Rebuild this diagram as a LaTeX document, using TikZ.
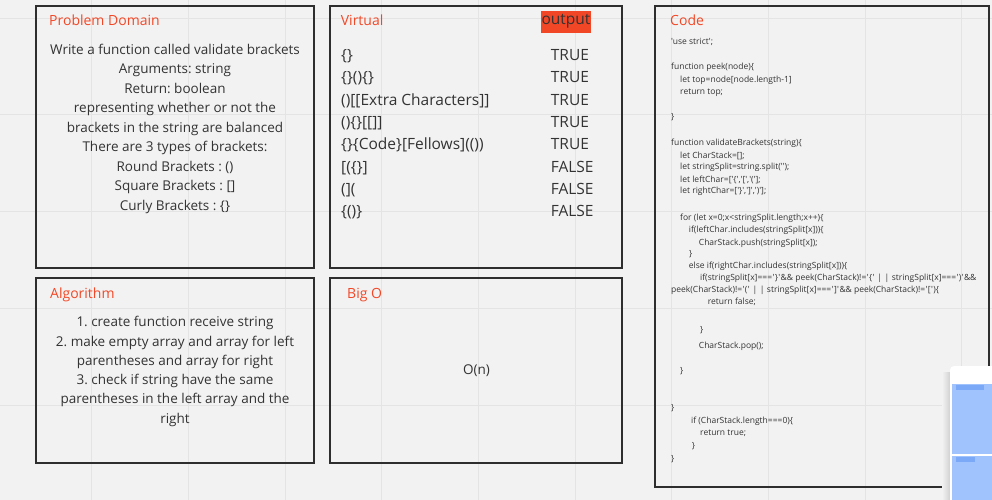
\documentclass[tikz,border=0pt]{standalone}
\usepackage{fontspec}
\setmainfont{Open Sans}
\newfontfamily\codefont{Open Sans}
\frenchspacing
\definecolor{bg}{HTML}{F2F2F2}
\definecolor{gridc}{HTML}{E4E4E4}
\definecolor{boxc}{HTML}{2E2E2E}
\definecolor{titlered}{HTML}{F24726}
\definecolor{txt}{HTML}{333333}
\definecolor{panelblue}{HTML}{A0C2FD}
\definecolor{barblue}{HTML}{7CA8F8}
\newcommand{\pipes}{\hspace{2.5pt}|\hspace{2.5pt}|\hspace{2.5pt}}
\newcommand{\q}{\hspace{0.4pt}'\hspace{0.4pt}}
\tikzset{
  panel/.style={draw=boxc, line width=1.7pt, inner sep=0pt},
  title/.style={anchor=base west, inner sep=0pt, text=titlered, font=\fontsize{14}{16}\selectfont},
  body/.style={anchor=base, inner sep=0pt, text=txt, font=\fontsize{13.5}{16}\selectfont},
  vlist/.style={anchor=base west, inner sep=0pt, text=txt, font=\fontsize{15.5}{18}\selectfont},
  code/.style={anchor=base west, inner sep=0pt, text=txt, font=\codefont\fontsize{8.5}{10}\selectfont},
  gridline/.style={draw=gridc, line width=1pt}
}
\begin{document}
\begin{tikzpicture}[x=1pt,y=-1pt]
\useasboundingbox (0,0) rectangle (992,500);
\fill[bg] (0,0) rectangle (992,500);
% grid
\foreach \gx in {91.7,188.4,285,381.7,478.3,575,671.7,768.3,865,961.7}
  \draw[gridline] (\gx,0) -- (\gx,500);
\foreach \gy in {18.3,115,211.7,308.3,405}
  \draw[gridline] (0,\gy) -- (992,\gy);

% panels
\node[panel, minimum width=278pt, minimum height=262pt] (pdbox) at (175,137) {};
\node[panel, minimum width=292pt, minimum height=262pt] (vbox) at (476,137) {};
\node[panel, minimum width=278pt, minimum height=185pt] (algbox) at (175,370.5) {};
\node[panel, minimum width=292pt, minimum height=185pt] (bigobox) at (476,370.5) {};
\node[panel, minimum width=334pt, minimum height=481pt] (codebox) at (822,246.5) {};

% titles
\node[title] (pdt) at (49,25.5) {Problem Domain};
\node[title] (vt) at (340.7,25.5) {Virtual};
\node[title] (algt) at (50,298.3) {Algorithm};
\node[title] (bigot) at (347,298.3) {Big O};
\node[title] (codet) at (670,25.5) {Code};
\node[fill=titlered, minimum width=50pt, minimum height=22pt, inner sep=0pt, text=txt,
      font=\fontsize{15.5}{18}\selectfont] (outp) at (566,21.7) {output};

% problem domain
\foreach \t [count=\i] in {{Write a function called validate brackets}, {Arguments: string},
  {Return: boolean}, {representing whether or not the}, {brackets in the string are balanced},
  {There are 3 types of brackets:}, {Round Brackets : ()}, {Square Brackets : []},
  {Curly Brackets : \{\}}}
  \node[body] (pd\i) at (175,{54.3+19.5*(\i-1)}) {\t};

% algorithm
\foreach \t [count=\i] in {{1. create function receive string}, {2. make empty array and array for left},
  {parentheses and array for right}, {3. check if string have the same},
  {parentheses in the left array and the}, {right}}
  \node[body] (al\i) at (175,{326.7+19.3*(\i-1)}) {\t};

% big O
\node[body] (on) at (476.5,374) {O(n)};

% virtual list
\foreach \t [count=\i] in {{\{\}}, {\{\}()\{\}}, {()[[Extra Characters]]}, {()\{\}[[]]},
  {\{\}\{Code\}[Fellows](())}, {[(\{\}]}, {(](}, {\{()\}}}
  \node[vlist] (vl\i) at (341,{60.7+22.3*(\i-1)}) {\t};
\foreach \t [count=\i] in {TRUE,TRUE,TRUE,TRUE,TRUE,FALSE,FALSE,FALSE}
  \node[vlist] (vr\i) at (550.7,{60.7+22.3*(\i-1)}) {\t};

% code
\node[code] (c1) at (671,45) {'use strict';};
\node[code] (c2) at (671,70) {function peek(node)\{};
\node[code] (c3) at (680,82.3) {let top=node[node.length-1]};
\node[code] (c4) at (680,94.3) {return top;};
\node[code] (c5) at (671,119.7) {\}};
\node[code] (c6) at (671,145.7) {function validateBrackets(string)\{};
\node[code] (c7) at (680,158) {let CharStack=[];};
\node[code] (c8) at (680,169.7) {let stringSplit=string.split('');};
\node[code] (c9) at (680,182) {let leftChar=['\{','[','('];};
\node[code] (c10) at (680,193.7) {let rightChar=['\}',']',')'];};
\node[code] (c11) at (680,220.3) {for (let x=0;x<stringSplit.length;x++)\{};
\node[code] (c12) at (688.7,232.7) {if(leftChar.includes(stringSplit[x]))\{};
\node[code] (c13) at (698.7,245) {CharStack.push(stringSplit[x]);};
\node[code] (c14) at (689,256.7) {\}};
\node[code] (c15) at (688.7,268.7) {else if(rightChar.includes(stringSplit[x]))\{};
\node[code] (c16) at (700,280.7) {if(stringSplit[x]===\q\}\q\&\& peek(CharStack)!=\q\{\q\pipes stringSplit[x]===\q)\q\&\&};
\node[code] (c17) at (671,292.3) {peek(CharStack)!=\q(\q\pipes stringSplit[x]===\q]\q\&\& peek(CharStack)!=\q[\q)\{};
\node[code] (c18) at (707.7,304) {return false;};
\node[code] (c19) at (700,332.3) {\}};
\node[code] (c20) at (698.7,348) {CharStack.pop();};
\node[code] (c21) at (680,373) {\}};
\node[code] (c22) at (671,410.7) {\}};
\node[code] (c23) at (691,423) {if (CharStack.length===0)\{};
\node[code] (c24) at (700,435.7) {return true;};
\node[code] (c25) at (691.7,448) {\}};
\node[code] (c26) at (671,461) {\}};

% bottom-right overlay panel
\shade[left color=bg, right color=black!18] (942,372) rectangle (950,500);
\fill[white, rounded corners=4pt] (950,366) rectangle (1000,520);
\fill[panelblue] (952,384) rectangle (992,454);
\fill[panelblue] (952,456) rectangle (992,500);
\fill[barblue] (955.5,385) rectangle (984,390);
\fill[barblue] (956,457) rectangle (975,462);
\end{tikzpicture}
\end{document}
